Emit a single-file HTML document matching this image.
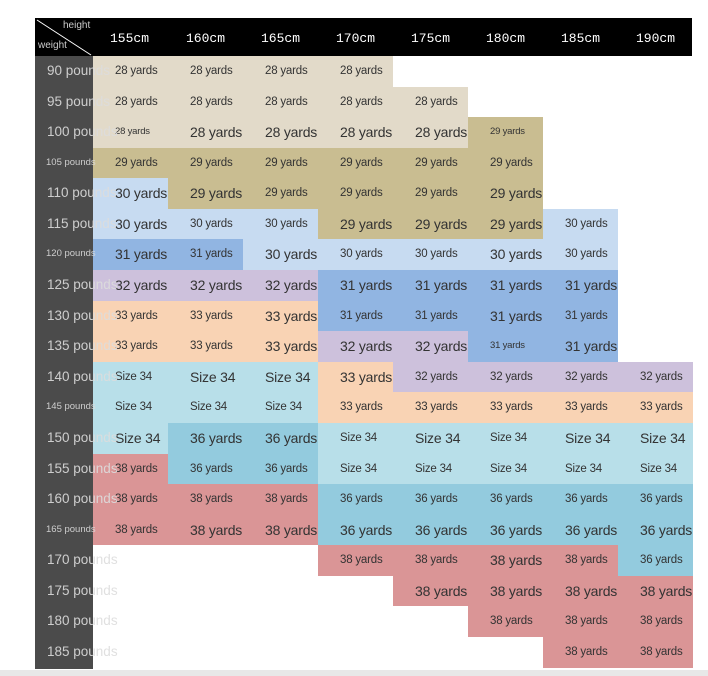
<!DOCTYPE html>
<html><head><meta charset="utf-8"><style>
body{margin:0;width:708px;height:676px;background:#fff;position:relative;overflow:hidden;font-family:"Liberation Sans",sans-serif}
#hdr{position:absolute;left:35px;top:18px;width:657px;height:38px;background:#000}
#lc{position:absolute;left:35px;top:56px;width:58px;height:613px;background:#4b4b4b}
.c{position:absolute;width:75px;height:30.6px;line-height:30.6px;color:#333;font-size:11.5px;padding-left:22px;box-sizing:border-box;letter-spacing:-0.2px}
.L{font-size:14px}
.h{position:absolute;top:31px;color:#fff;font-family:"Liberation Mono",monospace;font-size:13px}
.w{position:absolute;left:47px;color:#ddd;font-size:13.5px;height:30.6px;line-height:30.6px;white-space:nowrap;z-index:3;opacity:.9}
.ws{font-size:9.5px;left:46px}
.b{background:#e2dac9}.k{background:#c9bd91}.lb{background:#c7dbf1}.bl{background:#91b5e2}.lv{background:#cdc1dc}.p{background:#f9d3b4}.cy{background:#b8dfe9}.t{background:#93cbde}.pk{background:#da9596}
#bot{position:absolute;left:0;top:670px;width:708px;height:6px;background:#e8e8e8}
</style></head><body>
<div id="hdr"></div><div id="lc"></div>
<svg style="position:absolute;left:35px;top:18px" width="58" height="38"><line x1="2" y1="2" x2="56" y2="37" stroke="#fff" stroke-width="1"/></svg>
<div style="position:absolute;left:63px;top:20px;color:#ccc;font-size:10px">height</div>
<div style="position:absolute;left:38px;top:40px;color:#ccc;font-size:10px">weight</div>
<div class="h" style="left:110px">155cm</div><div class="h" style="left:186px">160cm</div><div class="h" style="left:261px">165cm</div><div class="h" style="left:336px">170cm</div><div class="h" style="left:411px">175cm</div><div class="h" style="left:486px">180cm</div><div class="h" style="left:561px">185cm</div><div class="h" style="left:636px">190cm</div>
<div id="cells"></div>
<div id="bot"></div>
<div id="g">
</div>
<script>
var rows=[
[90,0,[['b','28 yards'],['b','28 yards'],['b','28 yards'],['b','28 yards']]],
[95,0,[['b','28 yards'],['b','28 yards'],['b','28 yards'],['b','28 yards'],['b','28 yards']]],
[100,0,[['b','28 yards','s'],['b','28 yards','L'],['b','28 yards','L'],['b','28 yards','L'],['b','28 yards','L'],['k','29 yards','s']]],
[105,1,[['k','29 yards'],['k','29 yards'],['k','29 yards'],['k','29 yards'],['k','29 yards'],['k','29 yards']]],
[110,0,[['lb','30 yards','L'],['k','29 yards','L'],['k','29 yards'],['k','29 yards'],['k','29 yards'],['k','29 yards','L']]],
[115,0,[['lb','30 yards','L'],['lb','30 yards'],['lb','30 yards'],['k','29 yards','L'],['k','29 yards','L'],['k','29 yards','L'],['lb','30 yards']]],
[120,1,[['bl','31 yards','L'],['bl','31 yards'],['lb','30 yards','L'],['lb','30 yards'],['lb','30 yards'],['lb','30 yards','L'],['lb','30 yards']]],
[125,0,[['lv','32 yards','L'],['lv','32 yards','L'],['lv','32 yards','L'],['bl','31 yards','L'],['bl','31 yards','L'],['bl','31 yards','L'],['bl','31 yards','L']]],
[130,0,[['p','33 yards'],['p','33 yards'],['p','33 yards','L'],['bl','31 yards'],['bl','31 yards'],['bl','31 yards','L'],['bl','31 yards']]],
[135,0,[['p','33 yards'],['p','33 yards'],['p','33 yards','L'],['lv','32 yards','L'],['lv','32 yards','L'],['bl','31 yards','s'],['bl','31 yards','L']]],
[140,0,[['cy','Size 34'],['cy','Size 34','L'],['cy','Size 34','L'],['p','33 yards','L'],['lv','32 yards'],['lv','32 yards'],['lv','32 yards'],['lv','32 yards']]],
[145,1,[['cy','Size 34'],['cy','Size 34'],['cy','Size 34'],['p','33 yards'],['p','33 yards'],['p','33 yards'],['p','33 yards'],['p','33 yards']]],
[150,0,[['cy','Size 34','L'],['t','36 yards','L'],['t','36 yards','L'],['cy','Size 34'],['cy','Size 34','L'],['cy','Size 34'],['cy','Size 34','L'],['cy','Size 34','L']]],
[155,0,[['pk','38 yards'],['t','36 yards'],['t','36 yards'],['cy','Size 34'],['cy','Size 34'],['cy','Size 34'],['cy','Size 34'],['cy','Size 34']]],
[160,0,[['pk','38 yards'],['pk','38 yards'],['pk','38 yards'],['t','36 yards'],['t','36 yards'],['t','36 yards'],['t','36 yards'],['t','36 yards']]],
[165,1,[['pk','38 yards'],['pk','38 yards','L'],['pk','38 yards','L'],['t','36 yards','L'],['t','36 yards','L'],['t','36 yards','L'],['t','36 yards','L'],['t','36 yards','L']]],
[170,0,[null,null,null,['pk','38 yards'],['pk','38 yards'],['pk','38 yards','L'],['pk','38 yards'],['t','36 yards']]],
[175,0,[null,null,null,null,['pk','38 yards','L'],['pk','38 yards','L'],['pk','38 yards','L'],['pk','38 yards','L']]],
[180,0,[null,null,null,null,null,['pk','38 yards'],['pk','38 yards'],['pk','38 yards']]],
[185,0,[null,null,null,null,null,null,['pk','38 yards'],['pk','38 yards']]]];
var h='';
rows.forEach(function(r,i){var y=56+i*30.58;
h+='<div class="w'+(r[1]?' ws':'')+'" style="top:'+y+'px">'+r[0]+' pounds</div>';
r[2].forEach(function(c,j){if(!c)return;var x=93+j*75;
h+='<div class="c '+c[0]+(c[2]=='L'?' L':'')+'" style="left:'+x+'px;top:'+y+'px;'+(c[2]=='s'?'font-size:9.5px;':'')+'">'+c[1]+'</div>';});});
document.getElementById('cells').innerHTML=h;
</script>
</body></html>
